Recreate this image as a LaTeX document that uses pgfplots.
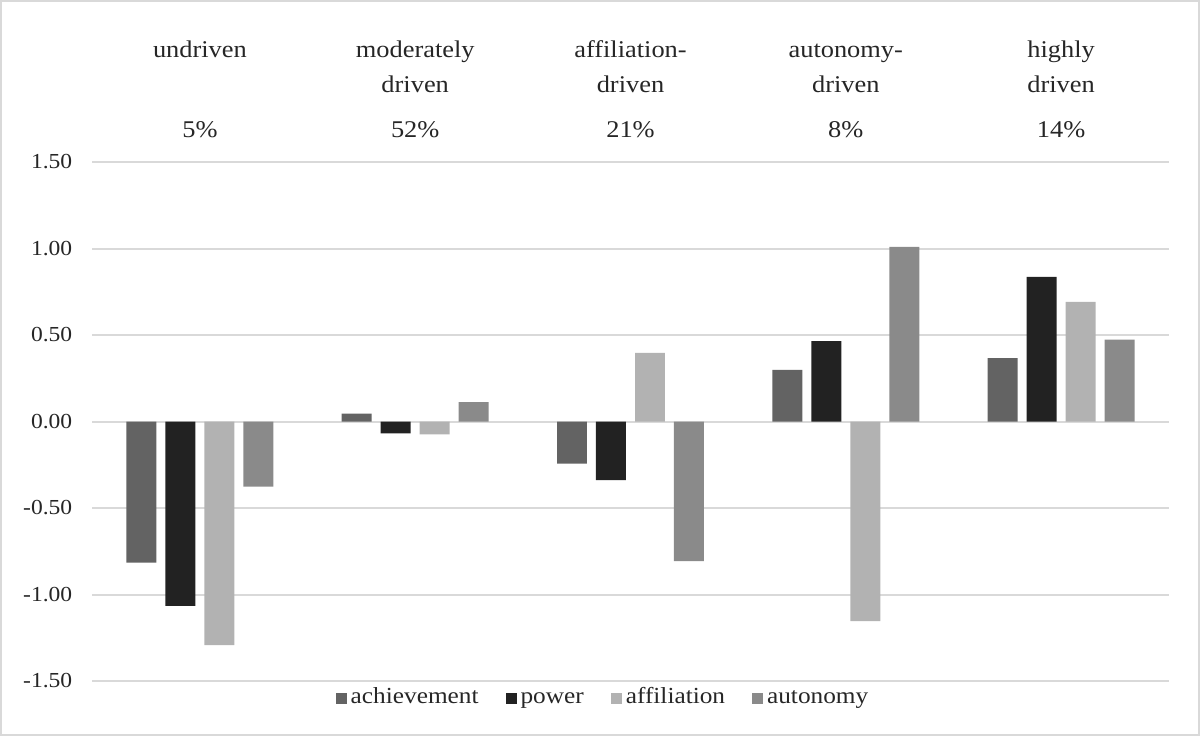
\documentclass[border=0pt]{standalone}
\usepackage{pgfplots}
\pgfplotsset{compat=1.18}
\usepackage{fontspec}
\setmainfont{Liberation Serif}[FakeStretch=1.1]
\definecolor{cach}{HTML}{636363}
\definecolor{cpow}{HTML}{222222}
\definecolor{caff}{HTML}{B2B2B2}
\definecolor{caut}{HTML}{8A8A8A}
\definecolor{gridc}{HTML}{D9D9D9}
\definecolor{txt}{HTML}{262626}
\begin{document}
\begin{tikzpicture}[x=1pt,y=1pt]
\useasboundingbox (0,0) rectangle (600,368);
\draw[gridc, line width=0.8pt] (0.4,0.4) rectangle (599.6,367.6);
\begin{axis}[
  at={(46.15pt,27.5pt)}, anchor=south west,
  scale only axis, width=538.2pt, height=259.5pt,
  xmin=-0.5, xmax=4.5, ymin=-1.5, ymax=1.5,
  axis line style={draw=none},
  xtick=\empty,
  ytick={-1.5,-1,-0.5,0,0.5,1,1.5},
  ymajorgrids,
  major grid style={gridc, line width=1pt},
  major tick length=0pt,
  yticklabel style={font=\fontsize{10.7}{12}\selectfont, text=txt, anchor=east, xshift=-6.5pt},
  /pgf/number format/.cd, fixed, fixed zerofill, precision=2, assume math mode=true, /pgfplots/.cd,
  clip=false,
  legend columns=4,
  legend style={draw=none, fill=none, at={(0.4754,-0.0328)}, anchor=center,
    font=\fontsize{11.5}{13}\selectfont, text=txt,
    nodes={text height=0.72em, text depth=0.22em},
    /tikz/every even column/.append style={column sep=11.5pt},
    inner sep=0pt},
  legend cell align=left,
  legend image code/.code={\fill[#1,/tikz/.cd,draw=none] (0pt,-2.75pt) rectangle (5.5pt,2.75pt);},
]
\addplot[ybar, bar width=0.1393, bar shift=-0.2717, fill=cach, draw=none]
  coordinates {(0,-0.815) (1,0.045) (2,-0.243) (3,0.299) (4,0.366)};
\addlegendentry{achievement}
\addplot[ybar, bar width=0.1393, bar shift=-0.0906, fill=cpow, draw=none]
  coordinates {(0,-1.065) (1,-0.068) (2,-0.339) (3,0.464) (4,0.836)};
\addlegendentry{power}
\addplot[ybar, bar width=0.1393, bar shift=0.0906, fill=caff, draw=none]
  coordinates {(0,-1.293) (1,-0.075) (2,0.397) (3,-1.154) (4,0.692)};
\addlegendentry{affiliation}
\addplot[ybar, bar width=0.1393, bar shift=0.2717, fill=caut, draw=none]
  coordinates {(0,-0.377) (1,0.112) (2,-0.807) (3,1.010) (4,0.474)};
\addlegendentry{autonomy}

\tikzset{cat/.style={anchor=base, font=\fontsize{12}{14}\selectfont, text=txt, inner sep=0pt}}
\node[cat, yshift=52.5pt] at (axis cs:0,1.5) {undriven};
\node[cat, yshift=52.5pt] at (axis cs:1,1.5) {moderately};
\node[cat, yshift=35pt]   at (axis cs:1,1.5) {driven};
\node[cat, yshift=52.5pt] at (axis cs:2,1.5) {affiliation-};
\node[cat, yshift=35pt]   at (axis cs:2,1.5) {driven};
\node[cat, yshift=52.5pt] at (axis cs:3,1.5) {autonomy-};
\node[cat, yshift=35pt]   at (axis cs:3,1.5) {driven};
\node[cat, yshift=52.5pt] at (axis cs:4,1.5) {highly};
\node[cat, yshift=35pt]   at (axis cs:4,1.5) {driven};
\node[cat, yshift=12.25pt] at (axis cs:0,1.5) {5\%};
\node[cat, yshift=12.25pt] at (axis cs:1,1.5) {52\%};
\node[cat, yshift=12.25pt] at (axis cs:2,1.5) {21\%};
\node[cat, yshift=12.25pt] at (axis cs:3,1.5) {8\%};
\node[cat, yshift=12.25pt] at (axis cs:4,1.5) {14\%};
\end{axis}
\end{tikzpicture}
\end{document}
